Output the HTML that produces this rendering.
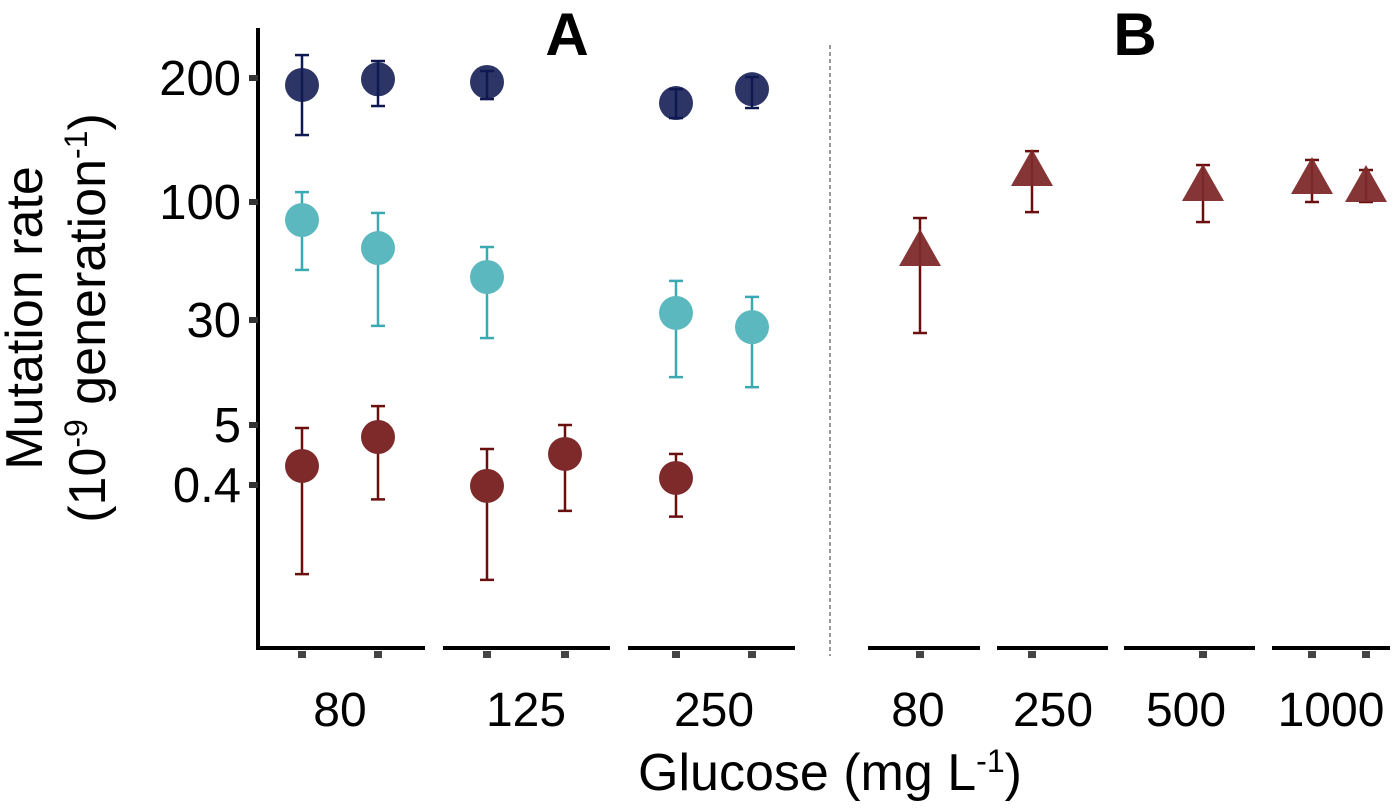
<!DOCTYPE html>
<html><head><meta charset="utf-8"><style>
html,body{margin:0;padding:0;background:#fff;}
svg text{font-family:"Liberation Sans",Arial,sans-serif;}
</style></head><body>
<svg id="chart" width="1400" height="803" xmlns="http://www.w3.org/2000/svg">
<g id="axes"></g><g id="marks"></g>
</svg>
<script>
// y tick labels
const yTickValues = [200, 100, 30, 5, 0.4];
// categories
const catsA = ["80", "125", "250"];
const catsB = ["80", "250", "500", "1000"];
// series: navy (panel A)
const navySlot = [0, 1, 2, 4, 5];
const navyVal = [194.4, 199, 196.8, 179.8, 191];
const navyLo = [154, 177.4, 183, 167.7, 175.8];
const navyHi = [218.5, 213.7, 205.6, 191, 200.8];
// teal (panel A)
const tealSlot = [0, 1, 2, 4, 5];
const tealVal = [89.3, 72.7, 55.5, 34.2, 28.3];
const tealLo = [59.7, 28.6, 25.7, 16.4, 14];
const tealHi = [108, 93.5, 73.3, 53.2, 43.7];
// red circles (panel A)
const redSlot = [0, 1, 2, 3, 4];
const redVal = [1.86, 4.08, 0.397, 2.78, 0.94];
const redLo = [0.09, 0.35, 0.07, 0.31, 0.29];
const redHi = [4.77, 9.5, 3.16, 5, 2.78];
// triangles (panel B)
const triSlot = [0, 1, 2, 3, 4];
const triVal = [71.5, 125.8, 113.7, 119.4, 112.9];
const triLo = [26.9, 94, 88.1, 100, 100];
const triHi = [90.5, 141, 129.8, 133.9, 125.8];

const NS = "http://www.w3.org/2000/svg";
const yDom = [0, 0.4, 5, 30, 100, 200];
const yRng = [600, 485, 425, 320, 202, 78];
function y(v){
  if (v >= 200) return 78 - (v-200)*1.24;
  for (let i=0;i<yDom.length-1;i++){
    if (v <= yDom[i+1]) return yRng[i] + (v-yDom[i])/(yDom[i+1]-yDom[i])*(yRng[i+1]-yRng[i]);
  }
}
function xA(s){ return [302,378,487,565,676,752][s]; }
function xB(s){ return [920,1032,1203,1312,1366][s]; }
function mk(tag, attrs, parent, name){
  const e = document.createElementNS(NS, tag);
  for (const k in attrs) e.setAttribute(k, attrs[k]);
  
  
  parent.appendChild(e); return e;
}
const ax = document.getElementById('axes'), mg = document.getElementById('marks');
mk('line',{x1:258,y1:28,x2:258,y2:650,stroke:'#000','stroke-width':4},ax,'y-axis-line');
yTickValues.forEach(v=>{
  const yy=y(v);
  mk('rect',{x:249,y:yy-3,width:9,height:6,fill:'#333'},ax,'y-tick');
  const t=mk('text',{x:241,y:yy+17,'text-anchor':'end','font-size':49,fill:'#000'},ax,'y-tick-label');
  t.textContent=v;
});
[[258,425],[443,610],[628,795],[868,980],[997,1108],[1124,1255],[1272,1390]].forEach(s=>{
  mk('line',{x1:s[0],y1:648,x2:s[1],y2:648,stroke:'#000','stroke-width':4},ax,'x-axis-segment');
});
[0,1,2,3,4,5].forEach(s=>mk('rect',{x:xA(s)-4,y:651,width:8,height:7,fill:'#444'},ax,'x-tick'));
[0,1,2,3,4].forEach(s=>mk('rect',{x:xB(s)-4,y:651,width:8,height:7,fill:'#444'},ax,'x-tick'));
const labA=[340,526,714], labB=[918,1053,1186,1331];
catsA.forEach((c,i)=>{const t=mk('text',{x:labA[i],y:726,'text-anchor':'middle','font-size':48},ax,'x-tick-label');t.textContent=c;});
catsB.forEach((c,i)=>{const t=mk('text',{x:labB[i],y:726,'text-anchor':'middle','font-size':48},ax,'x-tick-label');t.textContent=c;});
let t=mk('text',{x:830,y:790,'text-anchor':'middle','font-size':52},ax,'x-axis-title');
t.innerHTML='Glucose (mg L<tspan dy="-18" font-size="32">-1</tspan><tspan dy="18">)</tspan>';
t=mk('text',{x:0,y:0,'text-anchor':'middle','font-size':52,transform:'translate(42,318) rotate(-90)'},ax,'y-axis-title');
t.textContent='Mutation rate';
t=mk('text',{x:0,y:0,'text-anchor':'middle','font-size':52,transform:'translate(105,318) rotate(-90)'},ax,'y-axis-title-units');
t.innerHTML='(10<tspan dy="-18" font-size="32">-9</tspan><tspan dy="18"> generation</tspan><tspan dy="-18" font-size="32">-1</tspan><tspan dy="18">)</tspan>';
t=mk('text',{x:567,y:55,'text-anchor':'middle','font-size':60,'font-weight':'bold'},ax,'panel-label-a');t.textContent='A';
t=mk('text',{x:1135,y:55,'text-anchor':'middle','font-size':60,'font-weight':'bold'},ax,'panel-label-b');t.textContent='B';
mk('line',{x1:830,y1:45,x2:830,y2:656,stroke:'#333','stroke-width':1,'stroke-dasharray':'4,3'},ax,'panel-divider');

function err(x,lo,hi,col){
  mk('line',{x1:x,y1:y(lo),x2:x,y2:y(hi),stroke:col,'stroke-width':2.5},mg,'error-bar');
  mk('line',{x1:x-7,y1:y(lo),x2:x+7,y2:y(lo),stroke:col,'stroke-width':2.5},mg,'error-cap');
  mk('line',{x1:x-7,y1:y(hi),x2:x+7,y2:y(hi),stroke:col,'stroke-width':2.5},mg,'error-cap');
}
function circles(slots,vals,lo,hi,fill,ecol,name,order){
  slots.forEach((s,i)=>{
    const x=xA(s);
    if(order){ mk('circle',{cx:x,cy:y(vals[i]),r:17,fill:fill},mg,name); err(x,lo[i],hi[i],ecol);}
    else { err(x,lo[i],hi[i],ecol); mk('circle',{cx:x,cy:y(vals[i]),r:17,fill:fill},mg,name);}
  });
}
circles(navySlot,navyVal,navyLo,navyHi,'#2c3566','#0f1850','point-high',true);
circles(tealSlot,tealVal,tealLo,tealHi,'#5cb8bf','#3aa9b2','point-mid',false);
circles(redSlot,redVal,redLo,redHi,'#7e2a2a','#6b0e0e','point-low',false);
triSlot.forEach((s,i)=>{
  const x=xB(s), yy=y(triVal[i]);
  err(x,triLo[i],triHi[i],'#6b0e0e');
  mk('polygon',{points:`${x},${yy-21} ${x-21},${yy+16} ${x+21},${yy+16}`,fill:'#7e2a2a','fill-opacity':0.95},mg,'triangle-point');
});
</script>
</body></html>
